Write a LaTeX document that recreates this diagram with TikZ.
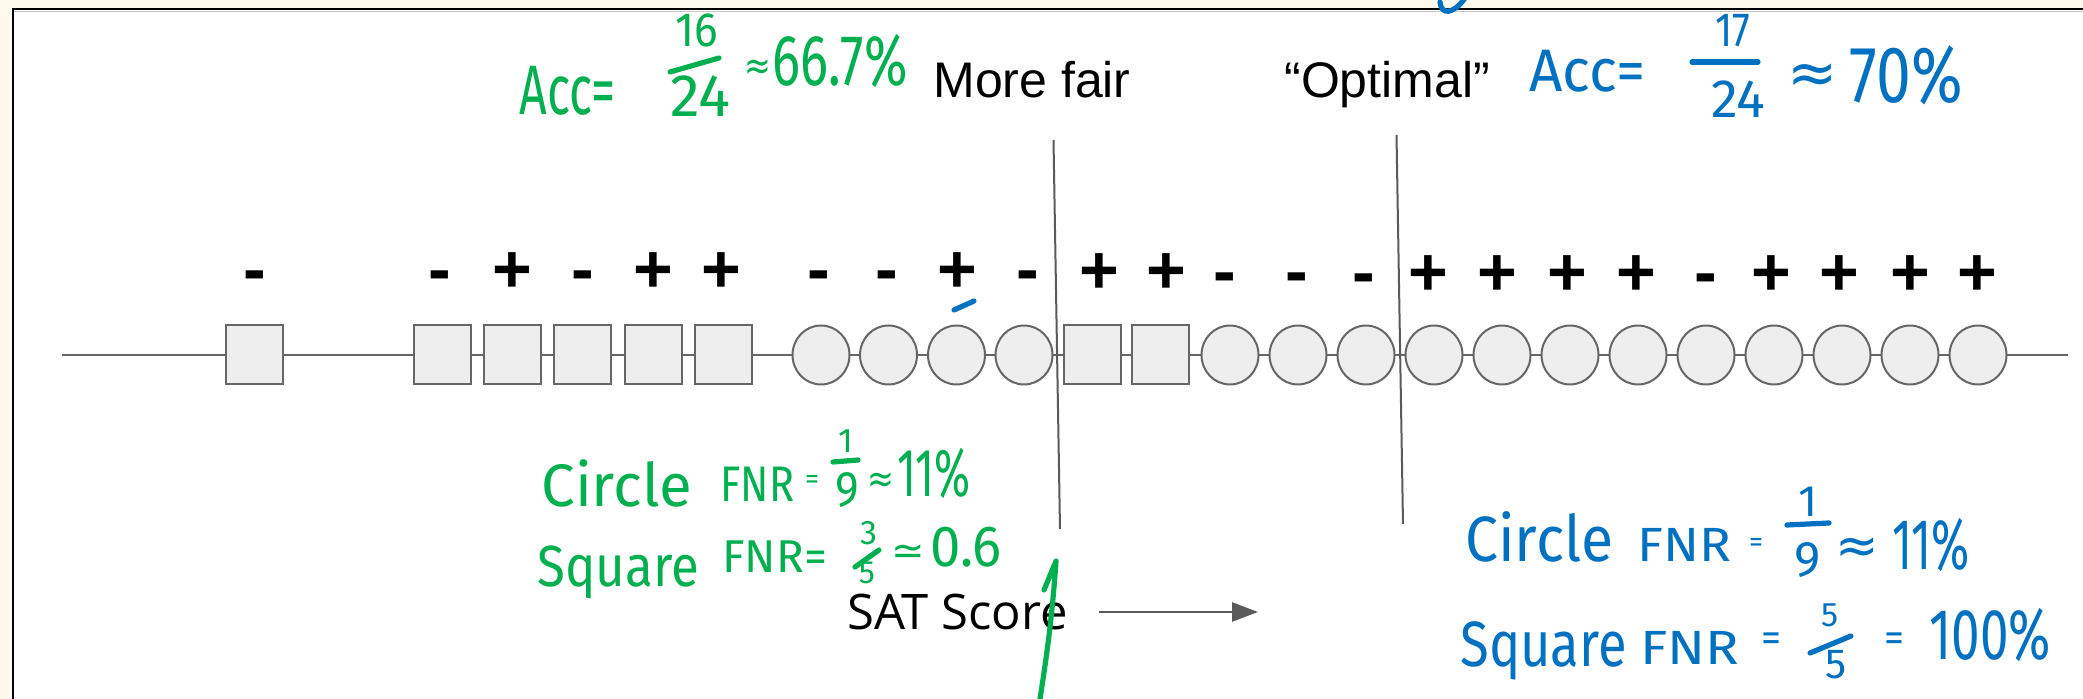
\documentclass[tikz,border=0pt]{standalone}
\usepackage{fontspec}
\usepackage{graphicx}
\usetikzlibrary{shapes.geometric,arrows.meta}
\setmainfont{Liberation Sans}
\newfontfamily\satfont{Open Sans}
\newfontfamily\handfont{Fira Sans}
\newfontfamily\mathsym{DejaVu Sans}
\definecolor{paper}{HTML}{FDF9EC}
\definecolor{shapefill}{HTML}{EEEEEE}
\definecolor{shapeline}{HTML}{666666}
\definecolor{rulegray}{HTML}{5A5A5A}
\definecolor{inkgreen}{HTML}{00B050}
\definecolor{inkblue}{HTML}{0070C0}
% pen annotations: size (pt), horizontal squeeze, text
\newcommand\hw[3]{{\handfont\fontsize{#1}{#1}\selectfont\scalebox{#2}[1]{#3}}}
\newcommand\hsym[3]{{\mathsym\fontsize{#1}{#1}\selectfont\scalebox{#2}[1]{#3}}}
\tikzset{
  sq/.style={draw=shapeline, fill=shapefill, line width=1pt,
    minimum width=28.5pt, minimum height=29.5pt, inner sep=0},
  circ/.style={ellipse, draw=shapeline, fill=shapefill, line width=1pt,
    minimum width=28.5pt, minimum height=29.5pt, inner sep=0},
  sign/.style={anchor=base, inner sep=0, font=\fontsize{34}{34}\selectfont\bfseries},
  heading/.style={anchor=base west, inner sep=0, font=\fontsize{25}{25}\selectfont},
  gink/.style={inner sep=0, text=inkgreen},
  bink/.style={inner sep=0, text=inkblue},
  gpen/.style={draw=inkgreen, line width=2.6pt, line cap=round, line join=round},
  bpen/.style={draw=inkblue, line width=2.6pt, line cap=round, line join=round},
  threshold/.style={draw=rulegray, line width=1pt},
  axisline/.style={draw=shapeline, line width=1.25pt},
}
\begin{document}
\begin{tikzpicture}[x=0.5pt, y=-0.5pt]
\useasboundingbox (0,0) rectangle (2083,699);
% slide page and its frame
\fill[paper] (0,0) rectangle (2083,699);
\fill[white] (12.7,9.3) rectangle (2083,699);
\draw[gray!45, line width=0.6pt] (13.7,11.2) -- (2083,11.2);
\draw[black, line width=1pt] (12.7,699) -- (12.7,9.3) -- (2083,9.3);

% score axis
\coordinate (axL) at (62,355);
\coordinate (axR) at (2068,355);
\draw[axisline] (axL) -- (axR);

% individuals, ordered by score
\node[sq] (s1) at (254,355) {};
\node[sq] (s2) at (442,355) {};
\node[sq] (s3) at (512,355) {};
\node[sq] (s4) at (582.5,355) {};
\node[sq] (s5) at (653,355) {};
\node[sq] (s6) at (723,355) {};
\node[circ] (c1) at (821,355) {};
\node[circ] (c2) at (888.5,355) {};
\node[circ] (c3) at (956.5,355) {};
\node[circ] (c4) at (1024,355) {};
\node[sq] (s7) at (1092.5,355) {};
\node[sq] (s8) at (1160.5,355) {};
\node[circ] (c5) at (1230,355) {};
\node[circ] (c6) at (1298,355) {};
\node[circ] (c7) at (1366,355) {};
\node[circ] (c8) at (1434,355) {};
\node[circ] (c9) at (1502,355) {};
\node[circ] (c10) at (1570,355) {};
\node[circ] (c11) at (1638,355) {};
\node[circ] (c12) at (1706,355) {};
\node[circ] (c13) at (1774,355) {};
\node[circ] (c14) at (1842,355) {};
\node[circ] (c15) at (1910,355) {};
\node[circ] (c16) at (1978,355) {};

% true labels
\node[sign] (l1) at (254.5,293) {-};
\node[sign] (l2) at (440,293) {-};
\node[sign] (l3) at (512,293) {+};
\node[sign] (l4) at (582.6,293) {-};
\node[sign] (l5) at (653,293) {+};
\node[sign] (l6) at (721,293) {+};
\node[sign] (l7) at (819,293) {-};
\node[sign] (l8) at (887,293) {-};
\node[sign] (l9) at (957.6,293) {+};
\node[sign] (l10) at (1028,293) {-};
\node[sign] (l11) at (1099,294) {+};
\node[sign] (l12) at (1166,294) {+};
\node[sign] (l13) at (1225,295) {-};
\node[sign] (l14) at (1297,295) {-};
\node[sign] (l15) at (1364,296) {-};
\node[sign] (l16) at (1428,296) {+};
\node[sign] (l17) at (1497,296) {+};
\node[sign] (l18) at (1567,296) {+};
\node[sign] (l19) at (1636,296) {+};
\node[sign] (l20) at (1706,296) {-};
\node[sign] (l21) at (1771,296) {+};
\node[sign] (l22) at (1839,296) {+};
\node[sign] (l23) at (1910,296) {+};
\node[sign] (l24) at (1977,296) {+};

% thresholds
\coordinate (t1a) at (1053.5,140);
\coordinate (t1b) at (1060,529);
\coordinate (t2a) at (1396.5,135);
\coordinate (t2b) at (1403,524);
\draw[threshold] (t1a) -- (t1b);
\draw[threshold] (t2a) -- (t2b);
\node[heading] (fair) at (933,98) {More fair};
\node[heading] (opt) at (1284,98) {“Optimal”};

% axis caption and direction arrow
\node[anchor=base west, inner sep=0, font=\satfont\fontsize{24.5}{24.5}\selectfont] (sat) at (847,630) {SAT Score};
\coordinate (arS) at (1099,612);
\coordinate (arE) at (1258,612);
\draw[draw=rulegray, line width=1.25pt, -{Triangle[length=13pt,width=9.5pt]}] (arS) -- (arE);

% green notes: the "more fair" threshold
\node[gink, anchor=base west] (gacc) at (519,115) {\hw{35}{0.69}{Acc=}};
\node[gink] (gnum) at (697,31) {\hw{24}{0.92}{16}};
\draw[gpen] (670,72) -- (719,58);
\node[gink] (gden) at (700,96) {\hw{30}{1}{24}};
\node[gink] (gapx) at (758,70) {\hsym{20}{0.8}{≈}};
\node[gink, anchor=base west] (gval) at (772,86) {\hw{36}{0.73}{66.7\%}};

\node[gink, anchor=base west] (gc1) at (541,507) {\hw{30}{1}{Circle}};
\node[gink, anchor=base west] (gc2) at (720,502) {\hw{25}{0.83}{FNR}};
\node[gink] (gc3) at (812,482) {\hw{14}{1}{=}};
\node[gink] (gc4) at (846,441) {\hw{17}{1}{1}};
\draw[gpen] (833,462) -- (858,460);
\node[gink] (gc5) at (847,490) {\hw{25}{0.9}{9}};
\node[gink] (gc6) at (881,483) {\hsym{20}{0.8}{≈}};
\node[gink, anchor=base west] (gc7) at (897,497) {\hw{34}{0.64}{11\%}};

\node[gink, anchor=base west] (gs1) at (537,587) {\hw{29}{0.88}{Square}};
\node[gink, anchor=base west] (gs2) at (722,573) {\hw{23}{1}{FNR=}};
\node[gink] (gs3) at (869,533) {\hw{17}{1}{3}};
\draw[gpen] (855,567) -- (879,550);
\node[gink] (gs4) at (867,573) {\hw{16}{1}{5}};
\node[gink] (gs5) at (908,555) {\hsym{20}{1}{≃}};
\node[gink, anchor=base west] (gs6) at (930,567) {\hw{29}{0.94}{0.6}};
\draw[gpen] (1044,590) -- (1056,561) .. controls (1052,620) and (1046,660) .. (1040,699);

% blue notes: the "optimal" threshold
\node[bink, anchor=base west] (bacc) at (1529,92) {\hw{30}{0.97}{Acc=}};
\node[bink] (bnum) at (1733,31) {\hw{24}{0.83}{17}};
\draw[bpen] (1692,62) -- (1758,62);
\node[bink] (bden) at (1738,99) {\hw{27}{1}{24}};
\node[bink] (bapx) at (1813,79) {\hsym{30}{1}{≈}};
\node[bink, anchor=base west] (bval) at (1849,103) {\hw{40}{0.78}{70\%}};

\node[bink, anchor=base west] (bc1) at (1465,562) {\hw{32}{0.92}{Circle}};
\node[bink, anchor=base west] (bc2) at (1637,562) {\hw{24}{1.1}{FNR}};
\node[bink] (bc3) at (1756,545) {\hw{14}{1}{=}};
\node[bink] (bc4) at (1808,502) {\hw{22}{1}{1}};
\draw[bpen] (1787,525) -- (1829,523);
\node[bink] (bc5) at (1808,560) {\hw{25}{1}{9}};
\node[bink] (bc6) at (1857,551) {\hsym{26}{1}{≈}};
\node[bink, anchor=base west] (bc7) at (1892,570) {\hw{36}{0.64}{11\%}};

\node[bink, anchor=base west] (bs1) at (1460,667) {\hw{32}{0.82}{Square}};
\node[bink, anchor=base west] (bs2) at (1640,665) {\hw{24}{1.16}{FNR}};
\node[bink] (bs3) at (1771,642) {\hw{20}{1}{=}};
\node[bink] (bs4) at (1830,615) {\hw{17}{1}{5}};
\draw[bpen] (1810,653) -- (1851,636);
\node[bink] (bs5) at (1836,665) {\hw{21}{1}{5}};
\node[bink] (bs6) at (1894,642) {\hw{20}{1}{=}};
\node[bink, anchor=base west] (bs7) at (1929,660) {\hw{36}{0.71}{100\%}};

\draw[bpen] (954,310) -- (974,301);
\draw[bpen] (1440,2) .. controls (1441,15) and (1453,15) .. (1465,-2);
\end{tikzpicture}
\end{document}
